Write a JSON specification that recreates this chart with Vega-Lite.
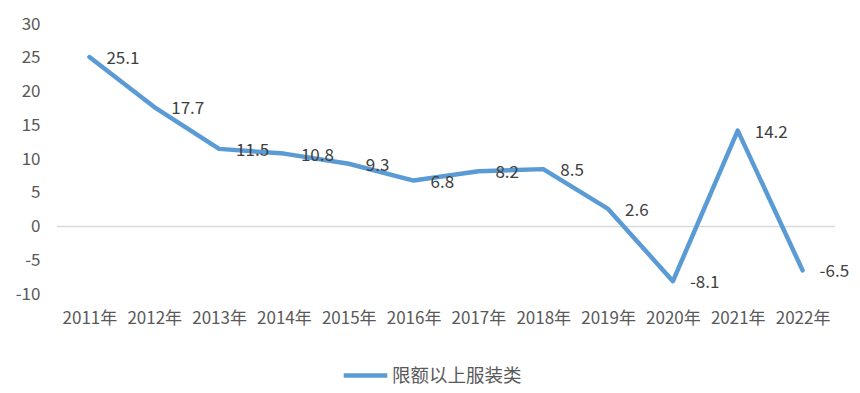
{
  "$schema": "https://vega.github.io/schema/vega-lite/v6.json",
  "autosize": "none",
  "width": 778,
  "height": 270,
  "padding": {"left": 57, "top": 24, "right": 25, "bottom": 99},
  "background": "white",
  "config": {
    "view": {"stroke": null},
    "font": "Noto Sans CJK SC",
    "axis": {"labelFont": "Noto Sans CJK SC", "labelColor": "#595959", "labelFontSize": 17, "title": null, "grid": false, "ticks": false, "domain": false},
    "legend": {"labelFont": "Noto Sans CJK SC", "labelColor": "#595959", "labelFontSize": 18.5}
  },
  "data": {
    "values": [
      {"year": "2011年", "value": 25.1, "series": "限额以上服装类"},
      {"year": "2012年", "value": 17.7, "series": "限额以上服装类"},
      {"year": "2013年", "value": 11.5, "series": "限额以上服装类"},
      {"year": "2014年", "value": 10.8, "series": "限额以上服装类"},
      {"year": "2015年", "value": 9.3, "series": "限额以上服装类"},
      {"year": "2016年", "value": 6.8, "series": "限额以上服装类"},
      {"year": "2017年", "value": 8.2, "series": "限额以上服装类"},
      {"year": "2018年", "value": 8.5, "series": "限额以上服装类"},
      {"year": "2019年", "value": 2.6, "series": "限额以上服装类"},
      {"year": "2020年", "value": -8.1, "series": "限额以上服装类"},
      {"year": "2021年", "value": 14.2, "series": "限额以上服装类"},
      {"year": "2022年", "value": -6.5, "series": "限额以上服装类"}
    ]
  },
  "layer": [
    {
      "data": {"values": [{"zero": 0}]},
      "mark": {"type": "rule", "color": "#d9d9d9", "strokeWidth": 1.5},
      "encoding": {"y": {"field": "zero", "type": "quantitative", "scale": {"domain": [-10, 30], "nice": false, "zero": false}, "axis": {"tickCount": 8, "labelOverlap": false, "labelFlush": false, "labelPadding": 17, "labelExpr": "datum.value < 0 ? '-' + abs(datum.value) : '' + datum.value"}}}
    },
    {
      "mark": {"type": "line", "strokeWidth": 4.5, "strokeCap": "round", "strokeJoin": "round"},
      "encoding": {
        "x": {"field": "year", "type": "nominal", "sort": null, "axis": {"labelAngle": 0, "labelPadding": 16, "labelOverlap": false, "orient": "bottom"}, "scale": {"paddingInner": 0, "paddingOuter": 0.5}},
        "y": {"field": "value", "type": "quantitative", "scale": {"domain": [-10, 30], "nice": false, "zero": false}, "axis": {"tickCount": 8, "labelOverlap": false, "labelFlush": false, "labelPadding": 17, "labelExpr": "datum.value < 0 ? '-' + abs(datum.value) : '' + datum.value"}},
        "color": {"field": "series", "type": "nominal", "scale": {"range": ["#5B9BD5"]}, "legend": {"title": null, "orient": "none", "legendX": 284, "legendY": 327, "symbolType": "stroke", "symbolSize": 1900, "symbolStrokeWidth": 4.5, "labelOffset": 2}}
      }
    },
    {
      "transform": [{"calculate": "replace(format(datum.value, '.1f'), '\u2212', '-')", "as": "label"}],
      "mark": {"type": "text", "align": "left", "baseline": "middle", "dx": 17, "dy": 2, "fontSize": 17, "color": "#404040", "font": "Noto Sans CJK SC"},
      "encoding": {
        "x": {"field": "year", "type": "nominal", "sort": null},
        "y": {"field": "value", "type": "quantitative"},
        "text": {"field": "label", "type": "nominal"}
      }
    }
  ]
}
